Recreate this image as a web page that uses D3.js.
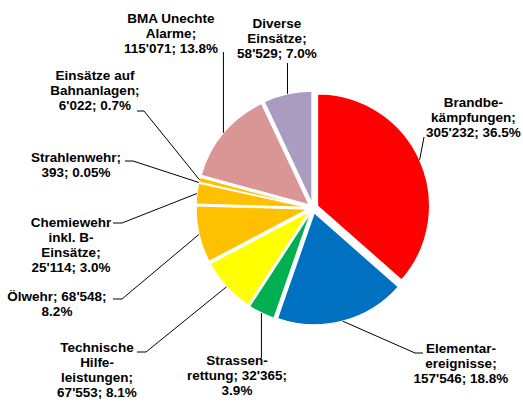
<!DOCTYPE html>
<html>
<head>
<meta charset="utf-8">
<script src="https://cdn.jsdelivr.net/npm/d3@7"></script>
<style>
body { margin: 0; background: #fff; }
text { font-family: "Liberation Sans", Arial, sans-serif; font-weight: bold; font-size: 13.5px; fill: #000; }
</style>
</head>
<body>
<svg id="chart" width="523" height="403"></svg>
<script>
// data
var categories = ["Brandbekämpfungen", "Elementarereignisse", "Strassenrettung", "Technische Hilfeleistungen",
  "Ölwehr", "Chemiewehr inkl. B-Einsätze", "Strahlenwehr", "Einsätze auf Bahnanlagen",
  "BMA Unechte Alarme", "Diverse Einsätze"];
var values = [305232, 157546, 32365, 67553, 68548, 25114, 393, 6022, 115071, 58529];
var pctLabels = ["36.5%", "18.8%", "3.9%", "8.1%", "8.2%", "3.0%", "0.05%", "0.7%", "13.8%", "7.0%"];
// label text, wrapped like in the original ({v} = value, {p} = percent)
var labelLines = [
  ["Brandbe-", "kämpfungen;", "{v}; {p}"],
  ["Elementar-", "ereignisse;", "{v}; {p}"],
  ["Strassen-", "rettung; {v};", "{p}"],
  ["Technische", "Hilfe-", "leistungen;", "{v}; {p}"],
  ["Ölwehr; {v};", "{p}"],
  ["Chemiewehr", "inkl. B-", "Einsätze;", "{v}; {p}"],
  ["Strahlenwehr;", "{v}; {p}"],
  ["Einsätze auf", "Bahnanlagen;", "{v}; {p}"],
  ["BMA Unechte", "Alarme;", "{v}; {p}"],
  ["Diverse", "Einsätze;", "{v}; {p}"]
];

var colors = ["#ff0000", "#0070c0", "#00b050", "#ffff00", "#ffc000", "#ffc000", "#ffc000", "#ffc000", "#d99694", "#aa9bc0"];

// label placement (text centre, first baseline, leader points from label side; x null = straight down to slice)
var labelLayout = [
  {x: 473.5, y: 107, leader: [[424, 137]]},
  {x: 461, y: 353, leader: [[423, 353], [415, 353]]},
  {x: 237, y: 365, leader: [[null, 358]]},
  {x: 97, y: 352, leader: [[137, 352], [146, 352]]},
  {x: 57, y: 301, leader: [[113, 299], [122, 299]]},
  {x: 71, y: 227, leader: [[113, 223], [122, 223]]},
  {x: 76, y: 162, leader: [[125, 161], [133, 161]]},
  {x: 95, y: 80, leader: [[137, 111], [144, 111]]},
  {x: 171, y: 23, leader: [[null, 52]]},
  {x: 277, y: 28, leader: [[null, 63]]}
];

var svg = d3.select("#chart");
var cx = 313, cy = 208, R = 112, explode = 5, lineH = 15;

var fmt = d3.formatLocale({decimal: ".", thousands: "'", grouping: [3], currency: ["", ""]}).format(",");

var rows = categories.map(function(c, i) {
  return {name: c, value: values[i], pct: pctLabels[i], color: colors[i], lines: labelLines[i], lay: labelLayout[i]};
});

var pie = d3.pie().sort(null).value(function(d) { return d.value; });
var arc = d3.arc().innerRadius(0).outerRadius(R);
var arcs = pie(rows);

function offset(d) {
  var m = (d.startAngle + d.endAngle) / 2;
  return [explode * Math.sin(m), -explode * Math.cos(m)];
}

var g = svg.append("g").attr("transform", "translate(" + cx + "," + cy + ")");

g.selectAll("path.slice")
  .data(arcs)
  .enter()
  .append("path")
    .attr("class", "slice")
    .attr("transform", function(d) { var o = offset(d); return "translate(" + o[0] + "," + o[1] + ")"; })
    .attr("d", arc)
    .attr("fill", function(d) { return d.data.color; })
    .attr("stroke", "#fff")
    .attr("stroke-width", 1.2)
    .attr("stroke-linejoin", "round");

// leader lines
arcs.forEach(function(d) {
  var o = offset(d);
  var m = (d.startAngle + d.endAngle) / 2;
  var edge = [cx + o[0] + R * Math.sin(m), cy + o[1] - R * Math.cos(m)];
  var pts = d.data.lay.leader.map(function(p) { return [p[0] === null ? edge[0] : p[0], p[1]]; });
  pts.push(edge);
  svg.append("path")
    .attr("d", d3.line()(pts))
    .attr("fill", "none")
    .attr("stroke", "#000")
    .attr("stroke-width", 1);
});

// labels
var labels = svg.selectAll("text.lbl")
  .data(rows)
  .enter()
  .append("text")
    .attr("class", "lbl")
    .attr("text-anchor", "middle");

labels.selectAll("tspan")
  .data(function(d) {
    return d.lines.map(function(l, k) {
      return {t: l.replace("{v}", fmt(d.value)).replace("{p}", d.pct), x: d.lay.x, y: d.lay.y + k * lineH};
    });
  })
  .enter()
  .append("tspan")
    .attr("x", function(d) { return d.x; })
    .attr("y", function(d) { return d.y; })
    .text(function(d) { return d.t; });
</script>
</body>
</html>
